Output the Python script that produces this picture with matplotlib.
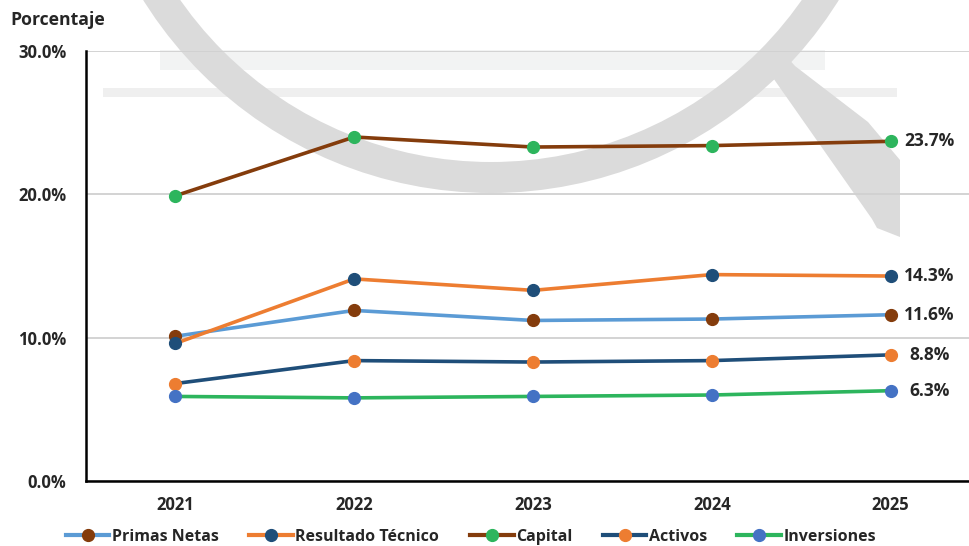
import matplotlib
matplotlib.use("Agg")
import matplotlib.pyplot as plt
from matplotlib.patches import Wedge, Polygon, Rectangle
from matplotlib.lines import Line2D

years = ["2021", "2022", "2023", "2024", "2025"]
primas_netas = [10.1, 11.9, 11.2, 11.3, 11.6]
resultado_tecnico = [9.6, 14.1, 13.3, 14.4, 14.3]
capital = [19.9, 24.0, 23.3, 23.4, 23.7]
activos = [6.8, 8.4, 8.3, 8.4, 8.8]
inversiones = [5.9, 5.8, 5.9, 6.0, 6.3]
yticks = [0, 10, 20, 30]

series = [
    ("Primas Netas", primas_netas, "#5B9BD5", "#843C0C"),
    ("Resultado Técnico", resultado_tecnico, "#ED7D31", "#1F4E79"),
    ("Capital", capital, "#843C0C", "#2DB55D"),
    ("Activos", activos, "#1F4E79", "#ED7D31"),
    ("Inversiones", inversiones, "#2DB55D", "#4472C4"),
]

plt.rcParams['font.family'] = ['Open Sans', 'DejaVu Sans']
TXT = "#262626"

W, H = 970, 546
fig = plt.figure(figsize=(W / 100, H / 100), dpi=100)

# watermark (figure pixel coordinates, y measured from top)
def fy(y):
    return H - y

wm = "#DBDBDB"
fig.patches.append(Rectangle((160, fy(70)), 665, 20, transform=None, facecolor="#F2F3F3", edgecolor="none", zorder=-2))
fig.patches.append(Rectangle((103, fy(97)), 794, 9, transform=None, facecolor="#EFEFEF", edgecolor="none", zorder=-2))
fig.patches.append(Wedge((491, fy(-217)), 410, 180, 360, width=31, transform=None,
                         facecolor=wm, edgecolor="none", zorder=-1))
fig.patches.append(Polygon([(757, fy(55)), (785, fy(55)), (795, fy(66)), (868, fy(122)),
                            (900, fy(160)), (900, fy(237)), (877, fy(228)), (872, fy(219))],
                           closed=True, transform=None,
                           facecolor=wm, edgecolor="none", zorder=-1))

ax = fig.add_axes([86 / W, (H - 481) / H, (980 - 86) / W, 430 / H])
ax.set_facecolor("none")
x = list(range(len(years)))

for name, vals, lc, mc in series:
    ax.plot(x, vals, color=lc, lw=2.6, marker="o", markersize=8.5,
            markerfacecolor=mc, markeredgecolor=mc, solid_capstyle="round", zorder=3)
    ax.annotate(f"{vals[-1]:.1f}%", xy=(x[-1], vals[-1]), xytext=(28, 0),
                textcoords="offset points", ha="center", va="center",
                fontsize=12.5, fontweight="bold", color=TXT)

ax.set_xlim(-0.5, len(years) - 0.5)
ax.set_ylim(0, 30)
ax.set_yticks(yticks)
ax.set_yticklabels([f"{v:.1f}%" for v in yticks])
ax.set_xticks(x)
ax.set_xticklabels(years)
ax.grid(axis="y", color="#D0D0D0", lw=1.3, zorder=1)
ax.set_axisbelow(True)
ax.tick_params(axis="both", length=0, labelsize=12, colors=TXT)
ax.tick_params(axis="y", pad=14)
ax.tick_params(axis="x", pad=11)
for lab in ax.get_xticklabels() + ax.get_yticklabels():
    lab.set_fontweight("bold")
for s in ["top", "right"]:
    ax.spines[s].set_visible(False)
ax.spines["left"].set_color("black")
ax.spines["left"].set_linewidth(1.8)
ax.spines["bottom"].set_color("black")
ax.spines["bottom"].set_linewidth(1.8)

fig.text(10 / W, 1 - 20 / H, "Porcentaje", ha="left", va="center",
         fontsize=12.7, fontweight="bold", color=TXT)

handles = [Line2D([0], [0], color=lc, lw=3, marker="o", markersize=8.5,
                  markerfacecolor=mc, markeredgecolor=mc) for _, _, lc, mc in series]
leg = fig.legend(handles, [s[0] for s in series], loc="center",
                 bbox_to_anchor=(471 / W, 1 - 537 / H), ncol=5, frameon=False,
                 handlelength=2.75, handletextpad=0.15, columnspacing=1.9,
                 prop={"size": 11.5, "weight": "bold"})
for t in leg.get_texts():
    t.set_color(TXT)

fig.savefig("out.png", dpi=100)
